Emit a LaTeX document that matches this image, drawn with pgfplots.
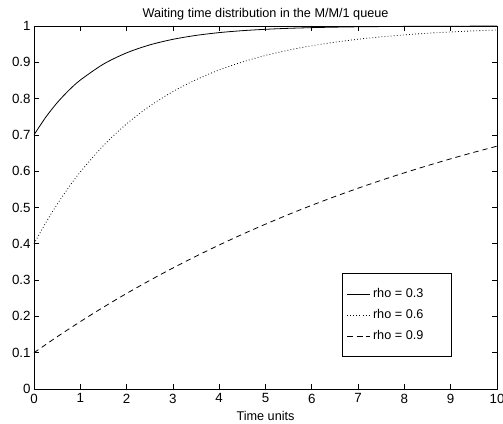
\documentclass[border=0pt]{standalone}
\usepackage{fontspec}
\setmainfont{Liberation Sans}
\usepackage{pgfplots}
\pgfplotsset{compat=1.18}

\begin{document}
\begin{tikzpicture}
\begin{axis}[
    name=ax,
    scale only axis,
    width=347.25pt,
    height=272.25pt,
    xmin=0, xmax=10,
    ymin=0, ymax=1,
    xtick={0,1,...,10},
    ytick={0,0.1,...,1},
    yticklabels={0,0.1,0.2,0.3,0.4,0.5,0.6,0.7,0.8,0.9,1},
    tick align=inside,
    major tick length=3.5pt,
    tick style={black, line width=0.5pt},
    axis line style={line width=0.6pt},
    /pgf/number format/assume math mode=true,
    ticklabel style={font=\fontsize{10}{12}\selectfont},
    yticklabel style={xshift=1pt},
    every axis title shift=0pt,
    title={Waiting time distribution in the M/M/1 queue},
    title style={at={(axis description cs:0.5,1)}, anchor=base, yshift=6.5pt, font=\fontsize{9.5}{11}\selectfont},
    xlabel={Time units},
    xlabel style={at={(axis description cs:0.5,0)}, anchor=base, yshift=-23.5pt, font=\fontsize{9.5}{11}\selectfont},
    legend style={at={(0.903,0.088)}, anchor=south east, font=\fontsize{9.5}{11}\selectfont,
        draw=black, line width=0.6pt, inner xsep=3pt, inner ysep=9pt, row sep=3.5pt},
    legend cell align=left,
    legend image post style={line width=0.6pt},
    every axis plot/.append style={black, line width=0.6pt, smooth, no markers},
]
\addplot[solid] coordinates {
(0,0.7) (0.25,0.7481) (0.5,0.7886) (0.75,0.8225) (1,0.8510) (1.5,0.8950) (2,0.9260)
(2.5,0.9479) (3,0.9633) (3.5,0.9741) (4,0.9818) (4.5,0.9871) (5,0.9909)
(5.5,0.9936) (6,0.9955) (6.5,0.9968) (7,0.9978) (7.5,0.9984) (8,0.9989)
(8.5,0.9992) (9,0.9994) (9.5,0.9996) (10,0.9997)};
\addlegendentry{\makebox[54pt][l]{rho = 0.3}}
\addplot[dash pattern=on 0.6pt off 1.7pt] coordinates {
(0,0.4) (0.25,0.4571) (0.5,0.5088) (0.75,0.5555) (1,0.5978) (1.5,0.6707) (2,0.7304)
(2.5,0.7793) (3,0.8193) (3.5,0.8520) (4,0.8789) (4.5,0.9008) (5,0.9188)
(5.5,0.9335) (6,0.9456) (6.5,0.9554) (7,0.9635) (7.5,0.9701) (8,0.9755)
(8.5,0.9800) (9,0.9836) (9.5,0.9866) (10,0.9890)};
\addlegendentry{\makebox[54pt][l]{rho = 0.6}}
\addplot[dash pattern=on 4pt off 3pt] coordinates {
(0,0.1) (0.5,0.1439) (1,0.1856) (1.5,0.2254) (2,0.2632) (2.5,0.2991) (3,0.3333)
(3.5,0.3658) (4,0.3967) (4.5,0.4261) (5,0.4541) (5.5,0.4808) (6,0.5061)
(6.5,0.5302) (7,0.5531) (7.5,0.5749) (8,0.5956) (8.5,0.6153) (9,0.6341)
(9.5,0.6520) (10,0.6689)};
\addlegendentry{\makebox[54pt][l]{rho = 0.9}}
\end{axis}
\pgfresetboundingbox
\path[use as bounding box] ([xshift=-25.5pt,yshift=-26.25pt]ax.south west) rectangle ([xshift=4.5pt,yshift=19.5pt]ax.north east);
\end{tikzpicture}
\end{document}
